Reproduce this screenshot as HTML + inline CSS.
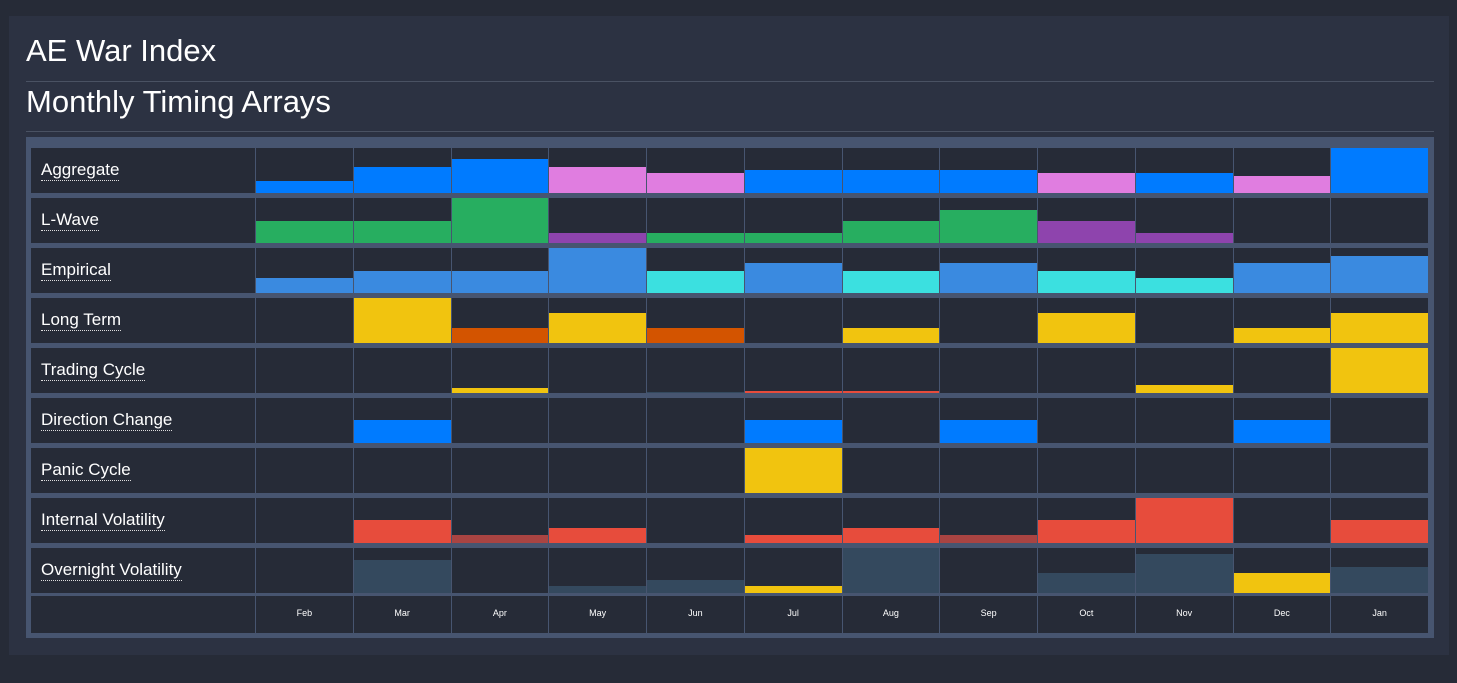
<!DOCTYPE html>
<html><head><meta charset="utf-8"><style>
body{margin:0;width:1457px;height:683px;background:#262b37;font-family:"Liberation Sans",sans-serif;position:relative;overflow:hidden}
#panel{position:absolute;left:9px;top:16px;width:1440px;height:639px;background:#2c3242}
.h{position:absolute;left:26px;color:#fff;font-size:31px;white-space:nowrap}
.line{position:absolute;left:26px;width:1408px;height:1px;background:#4a5263}
#box{position:absolute;left:26px;top:137px;width:1408px;height:501px;background:#475570}
.c{position:absolute;background:#262b37;overflow:hidden}
.lab{color:#fff;font-size:17px;position:absolute;left:10px;top:12px;border-bottom:1px dotted #ddd;line-height:20px}
.b{position:absolute;left:0;right:0;bottom:0}
.m{color:#fff;font-size:9px;text-align:center;width:100%;position:absolute;top:12px}
</style></head><body>
<div id="panel"></div>
<div class="h" style="top:33px">AE War Index</div>
<div class="line" style="top:81px"></div>
<div class="h" style="top:84px">Monthly Timing Arrays</div>
<div class="line" style="top:131px"></div>
<div id="box"></div>
<script>
var B='#007bff',P='#e07de0',G='#27ae60',V='#8e44ad',E='#3a8ae0',C='#3be0e0',Y='#f1c40f',O='#d35400',R='#e74c3c',D='#a94442',S='#34495e';
var rows=[
["Aggregate",[[12,B],[26,B],[34,B],[26,P],[20,P],[23,B],[23,B],[23,B],[20,P],[20,B],[17,P],[45,B]]],
["L-Wave",[[22,G],[22,G],[45,G],[10,V],[10,G],[10,G],[22,G],[33,G],[22,V],[10,V],[0,G],[0,G]]],
["Empirical",[[15,E],[22,E],[22,E],[45,E],[22,C],[30,E],[22,C],[30,E],[22,C],[15,C],[30,E],[37,E]]],
["Long Term",[[0,Y],[45,Y],[15,O],[30,Y],[15,O],[0,Y],[15,Y],[0,Y],[30,Y],[0,Y],[15,Y],[30,Y]]],
["Trading Cycle",[[0,Y],[0,Y],[5,Y],[0,Y],[1,S],[2,R],[2,R],[0,Y],[0,Y],[8,Y],[0,Y],[45,Y]]],
["Direction Change",[[0,B],[23,B],[0,B],[0,B],[0,B],[23,B],[0,B],[23,B],[0,B],[0,B],[23,B],[0,B]]],
["Panic Cycle",[[0,Y],[0,Y],[0,Y],[0,Y],[0,Y],[45,Y],[0,Y],[0,Y],[0,Y],[0,Y],[0,Y],[0,Y]]],
["Internal Volatility",[[0,R],[23,R],[8,D],[15,R],[0,R],[8,R],[15,R],[8,D],[23,R],[45,R],[0,R],[23,R]]],
["Overnight Volatility",[[0,S],[33,S],[0,S],[7,S],[13,S],[7,Y],[45,S],[0,S],[20,S],[39,S],[20,Y],[26,S]]]
];
var mon=["Feb","Mar","Apr","May","Jun","Jul","Aug","Sep","Oct","Nov","Dec","Jan"];
var h='';
function cell(x,y,w,hh,inner){return '<div class="c" style="left:'+x+'px;top:'+y+'px;width:'+w+'px;height:'+hh+'px">'+inner+'</div>';}
var cw=97.75;
rows.forEach(function(r,i){var y=148+50*i;
 h+=cell(31,y,224,45,'<span class="lab">'+r[0]+'</span>');
 r[1].forEach(function(v,j){var x=256+cw*j;var w=cw-1;
  h+=cell(x,y,w,45,v[0]?'<div class="b" style="height:'+v[0]+'px;background:'+v[1]+'"></div>':'');});
});
var y=596;h+=cell(31,y,224,37,'');
mon.forEach(function(m,j){h+=cell(256+cw*j,y,cw-1,37,'<div class="m">'+m+'</div>');});
document.body.insertAdjacentHTML('beforeend',h);
</script>
</body></html>
